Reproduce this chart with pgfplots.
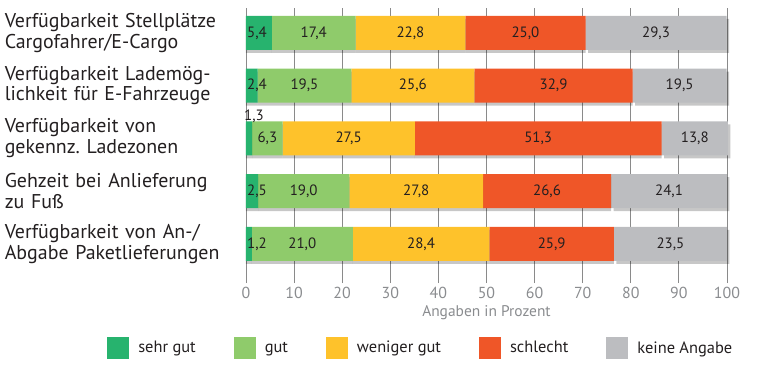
\documentclass[border=0pt]{standalone}
\usepackage{pgfplots}
\pgfplotsset{compat=1.18}
\usepackage{fontspec}
\setmainfont{PT Sans}
\usetikzlibrary{shadows}
\frenchspacing
\definecolor{cSG}{HTML}{27B36E}
\definecolor{cG}{HTML}{8FCB6B}
\definecolor{cWG}{HTML}{FEC22B}
\definecolor{cS}{HTML}{EF5628}
\definecolor{cK}{HTML}{BCBDC0}
\definecolor{txt}{HTML}{231F20}
\definecolor{tickc}{HTML}{8A8C8F}
\definecolor{gridc}{HTML}{8A8A8A}
\pgfplotsset{
  commonaxis/.style={scale only axis, width=481bp, height=275bp,
    xmin=0, xmax=100, ymin=0.26, ymax=5.47, clip=false,
    /pgf/number format/assume math mode=true,
    /pgf/number format/use comma, /pgf/number format/fixed,
    /pgf/number format/fixed zerofill, /pgf/number format/precision=1},
  shad/.style={drop shadow={shadow xshift=0bp, shadow yshift=-3bp, opacity=0.22, fill=black}},
  shadlast/.style={drop shadow={shadow xshift=2.5bp, shadow yshift=-3bp, opacity=0.22, fill=black}},
}
\newcommand{\legsq}[1]{\begin{pgfscope}\pgfsetfillcolor{#1}\pgfpathrectangle{\pgfpoint{0bp}{-11bp}}{\pgfpoint{22bp}{22bp}}\pgfusepath{fill}\end{pgfscope}\pgfpathmoveto{\pgfpoint{29bp}{0bp}}\pgfusepath{}}
\begin{document}
\begin{tikzpicture}[font=\fontsize{15}{18}\selectfont]
\begin{axis}[
  commonaxis,
  xbar stacked, bar width=34bp,
  xtick={0,10,...,100},
  xticklabel={\pgfmathprintnumber[fixed, precision=0, fixed zerofill=false]{\tick}},
  ytick={1,2,3,4,5},
  yticklabels={{Verfügbarkeit von An-/\\Abgabe Paketlieferungen},{Gehzeit bei Anlieferung\\zu Fuß},{Verfügbarkeit von\\gekennz. Ladezonen},{Verfügbarkeit Lademög-\\lichkeit für E-Fahrzeuge},{Verfügbarkeit Stellplätze\\Cargofahrer/E-Cargo}},
  yticklabel style={align=left, text width=236bp, inner sep=0pt, anchor=east, xshift=-5bp, text=txt, font=\fontsize{20}{21}\selectfont},
  xticklabel style={text=tickc, font=\fontsize{16}{18}\selectfont, yshift=-0.5bp},
  xlabel={Angaben in Prozent},
  xlabel style={text=tickc, font=\fontsize{15.5}{17}\selectfont, yshift=0bp},
  axis line style={draw=none},
  major tick length=0pt,
  xmajorgrids, grid style={gridc, line width=0.8bp},
  nodes near coords,
  nodes near coords style={text=txt, font=\fontsize{15}{18}\selectfont},
  legend columns=5,
  legend style={at={(-0.295,-0.236)}, anchor=west, draw=none, fill=none, font=\fontsize{16.5}{18}\selectfont, text=txt,
    /tikz/every even column/.append style={column sep=36bp}},
]
\addplot[fill=cSG, draw=none, shad, nodes near coords={}, legend image code/.code={\legsq{cSG}}] coordinates {(1.2,1) (2.5,2) (1.3,3) (2.4,4) (5.4,5)};
\addlegendentry{sehr gut}
\addplot[fill=cG, draw=none, shad, legend image code/.code={\legsq{cG}}] coordinates {(21.0,1) (19.0,2) (6.3,3) (19.5,4) (17.4,5)};
\addlegendentry{gut}
\addplot[fill=cWG, draw=none, shad, legend image code/.code={\legsq{cWG}}] coordinates {(28.4,1) (27.8,2) (27.5,3) (25.6,4) (22.8,5)};
\addlegendentry{weniger gut}
\addplot[fill=cS, draw=none, shad, legend image code/.code={\legsq{cS}}] coordinates {(25.9,1) (26.6,2) (51.3,3) (32.9,4) (25.0,5)};
\addlegendentry{schlecht}
\addplot[fill=cK, draw=none, shadlast, legend image code/.code={\legsq{cK}}] coordinates {(23.5,1) (24.1,2) (13.8,3) (19.5,4) (29.3,5)};
\addlegendentry{keine Angabe}
\path (rel axis cs:-0.5114,1.0291) rectangle (rel axis cs:1.1019,-0.3491);
\end{axis}
\begin{axis}[
  commonaxis, hide axis,
  nodes near coords,
  point meta=explicit,
  nodes near coords style={text=txt, font=\fontsize{15}{18}\selectfont, inner sep=1bp},
]
\addplot[draw=none, mark=none, nodes near coords style={anchor=west}] coordinates {(0,5) [5.4] (0,4) [2.4] (0,2) [2.5] (0,1) [1.2]};
\addplot[draw=none, mark=none, nodes near coords style={anchor=south west, xshift=-3bp, yshift=14bp}] coordinates {(0,3) [1.3]};
\end{axis}
\end{tikzpicture}
\end{document}
